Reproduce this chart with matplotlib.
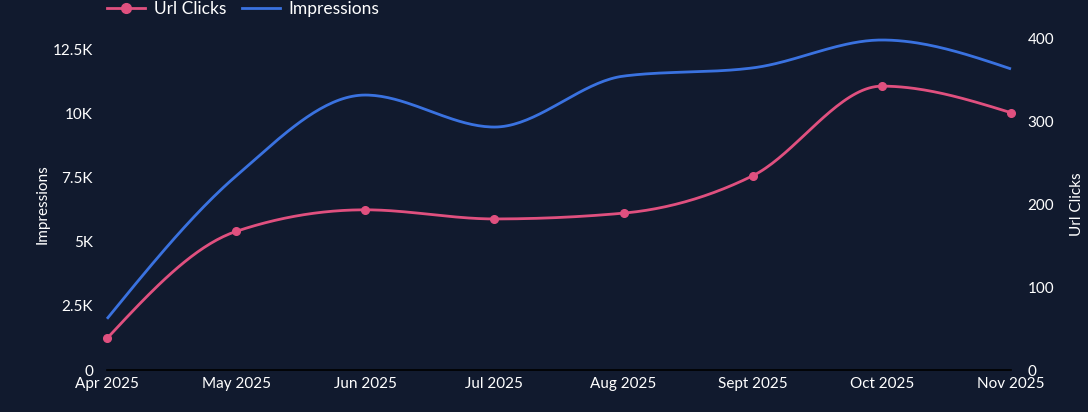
import numpy as np
import matplotlib
matplotlib.use("Agg")
import matplotlib.pyplot as plt
from matplotlib.ticker import FuncFormatter, FixedLocator
from matplotlib.lines import Line2D

months = ["Apr 2025", "May 2025", "Jun 2025", "Jul 2025", "Aug 2025", "Sept 2025", "Oct 2025", "Nov 2025"]
impressions = [2000, 7580, 10740, 9490, 11480, 11800, 12890, 11760]
url_clicks = [38, 167, 193, 182, 189, 234, 342, 310]

BG = "#111a2e"
PINK = "#e0507f"
BLUE = "#3a72e0"
WHITE = "#ffffff"
plt.rcParams['font.family'] = ['Lato', 'DejaVu Sans']


def monotone(xs, ys, n=40):
    xs = np.asarray(xs, float); ys = np.asarray(ys, float)
    h = np.diff(xs); d = np.diff(ys) / h
    m = np.zeros_like(ys)
    for i in range(1, len(ys) - 1):
        p = (d[i - 1] * h[i] + d[i] * h[i - 1]) / (h[i - 1] + h[i])
        m[i] = (np.sign(d[i - 1]) + np.sign(d[i])) * min(abs(d[i - 1]), abs(d[i]), 0.5 * abs(p))
    m[0] = (3 * d[0] - m[1]) / 2
    m[-1] = (3 * d[-1] - m[-2]) / 2
    ox, oy = [], []
    for i in range(len(xs) - 1):
        t = np.linspace(0, 1, n, endpoint=False)
        h00 = 2 * t**3 - 3 * t**2 + 1
        h10 = t**3 - 2 * t**2 + t
        h01 = -2 * t**3 + 3 * t**2
        h11 = t**3 - t**2
        ox.extend(xs[i] + t * h[i])
        oy.extend(h00 * ys[i] + h10 * h[i] * m[i] + h01 * ys[i + 1] + h11 * h[i] * m[i + 1])
    ox.append(xs[-1]); oy.append(ys[-1])
    return np.array(ox), np.array(oy)


fig = plt.figure(figsize=(10.88, 4.12), dpi=100, facecolor=BG)
ax = fig.add_axes([107 / 1088, 42 / 412, 904 / 1088, 332 / 412], facecolor=BG)
ax2 = ax.twinx()

x = np.arange(len(months))
sx, sy = monotone(x, impressions)
ax.plot(sx, sy, color=BLUE, lw=2, clip_on=False, solid_capstyle='butt')
cx, cy = monotone(x, url_clicks)
ax2.plot(cx, cy, color=PINK, lw=2, clip_on=False)
ax2.plot(x, url_clicks, 'o', color=PINK, ms=5.5, clip_on=False)

ax.set_xlim(0, len(months) - 1)
ax.set_ylim(0, 12968)
ax2.set_ylim(0, 400)
ax.set_xticks(x)
ax.set_xticklabels(months)
ax.yaxis.set_major_locator(FixedLocator([0, 2500, 5000, 7500, 10000, 12500]))
ax.yaxis.set_major_formatter(FuncFormatter(lambda v, p: "0" if v == 0 else (f"{v/1000:g}K")))
ax2.yaxis.set_major_locator(FixedLocator([0, 100, 200, 300, 400]))

for a in (ax, ax2):
    for s in a.spines.values():
        s.set_visible(False)
    a.tick_params(length=0, colors=WHITE, labelsize=11)
ax.spines['bottom'].set_visible(True)
ax.spines['bottom'].set_color('#000000')
ax.spines['bottom'].set_linewidth(1.2)
ax.tick_params(axis='x', pad=5)
ax.tick_params(axis='y', pad=10)
ax2.tick_params(axis='y', pad=12)

ax.set_ylabel("Impressions", color=WHITE, fontsize=11, labelpad=2)
ax2.set_ylabel("Url Clicks", color=WHITE, fontsize=11, labelpad=11)

handles = [Line2D([], [], color=PINK, lw=2, marker='o', ms=7),
           Line2D([], [], color=BLUE, lw=2)]
leg = fig.legend(handles, ["Url Clicks", "Impressions"], loc='center', bbox_to_anchor=(243 / 1088, 1 - 9 / 412),
                 ncol=2, frameon=False, fontsize=12.5, labelcolor=WHITE, handlelength=2.2,
                 columnspacing=0.9, handletextpad=0.5)

fig.savefig("out.png", dpi=100, facecolor=BG)
